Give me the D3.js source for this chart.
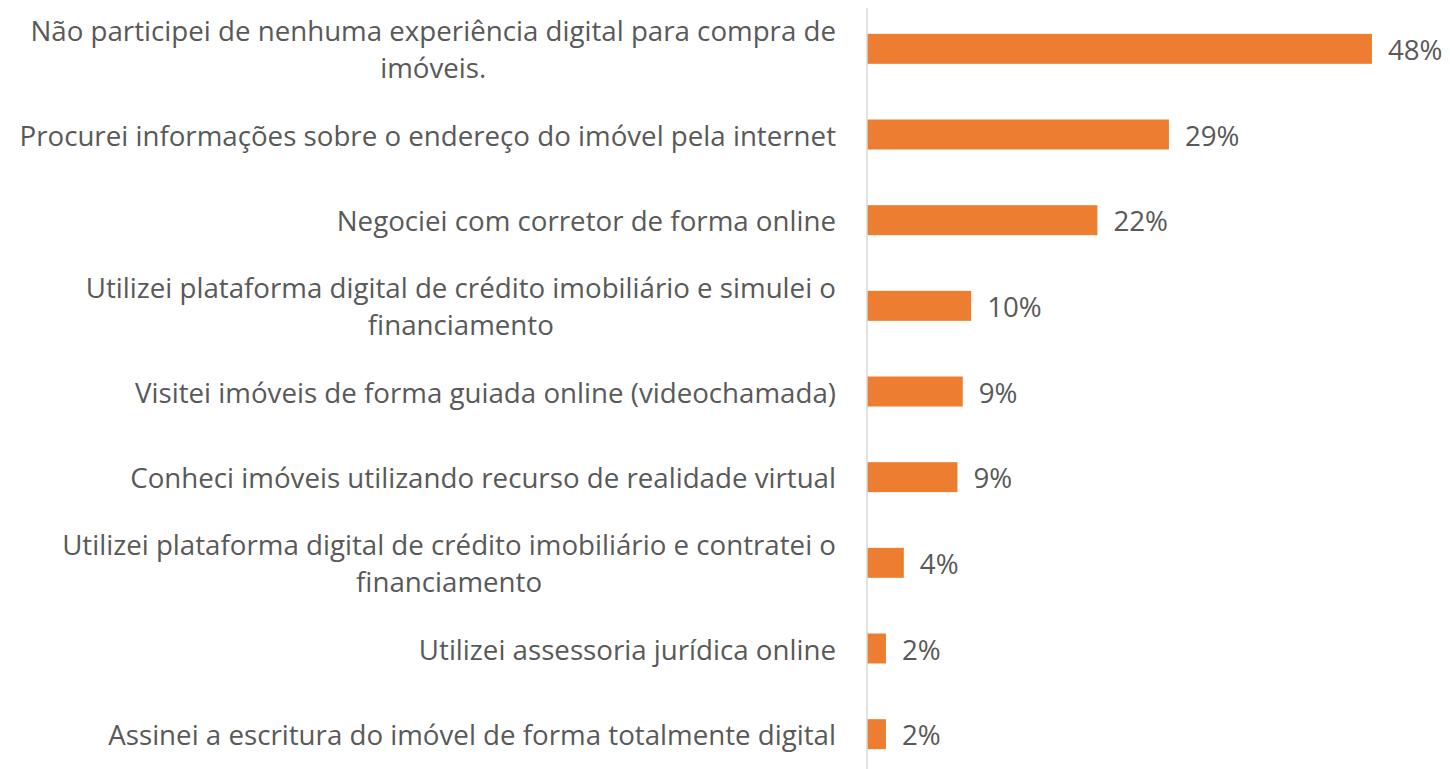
<!DOCTYPE html>
<html>
<head>
<meta charset="utf-8">
<script src="https://d3js.org/d3.v7.min.js"></script>
<style>
  body { margin: 0; background: #fff; }
  text { font-family: "Open Sans", sans-serif; fill: #595959; }
</style>
</head>
<body>
<svg width="1450" height="769"></svg>
<script>
// categories, each split in the lines shown on the chart
const categories = [
  ["Não participei de nenhuma experiência digital para compra de", "imóveis."],
  ["Procurei informações sobre o endereço do imóvel pela internet"],
  ["Negociei com corretor de forma online"],
  ["Utilizei plataforma digital de crédito imobiliário e simulei o", "financiamento"],
  ["Visitei imóveis de forma guiada online (videochamada)"],
  ["Conheci imóveis utilizando recurso de realidade virtual"],
  ["Utilizei plataforma digital de crédito imobiliário e contratei o", "financiamento"],
  ["Utilizei assessoria jurídica online"],
  ["Assinei a escritura do imóvel de forma totalmente digital"]
];
// percentages
const values = [48, 28.7, 21.9, 9.9, 9.1, 8.6, 3.5, 1.8, 1.8];

const svg = d3.select("svg");
const fontSize = 27.7;
const axisX = 867;
const labelRight = 836;

const xScale = d3.scaleLinear()
  .domain([0, 50])
  .range([axisX, axisX + 526]);

const yScale = d3.scaleBand()
  .domain(d3.range(categories.length))
  .range([6, 777])
  .paddingInner(0.65)
  .paddingOuter(0.325);

// bars
svg.append("g")
  .selectAll("rect")
  .data(values)
  .join("rect")
  .attr("x", xScale(0))
  .attr("y", (d, i) => yScale(i))
  .attr("width", d => xScale(d) - xScale(0))
  .attr("height", yScale.bandwidth())
  .attr("fill", "#ED7D31");

// vertical axis line
svg.append("line")
  .attr("x1", axisX).attr("x2", axisX)
  .attr("y1", 8).attr("y2", 777)
  .attr("stroke", "#d9d9d9")
  .attr("stroke-width", 1.5);

// value labels
svg.append("g")
  .selectAll("text")
  .data(values)
  .join("text")
  .attr("x", d => xScale(d) + 16)
  .attr("y", (d, i) => yScale(i) + yScale.bandwidth() / 2)
  .attr("dominant-baseline", "central")
  .attr("font-size", fontSize)
  .text(d => Math.round(d) + "%");

// category labels: lines centred on each other, block right-aligned
const lineGap = 37;
const catG = svg.append("g");
categories.forEach((lines, i) => {
  const cy = yScale(i) + yScale.bandwidth() / 2;
  const g = catG.append("g");
  const texts = lines.map((ln, k) => g.append("text")
    .attr("font-size", fontSize)
    .attr("text-anchor", "middle")
    .attr("dominant-baseline", "central")
    .attr("y", cy + (k - (lines.length - 1) / 2) * lineGap)
    .text(ln));
  const w = d3.max(texts, t => t.node().getComputedTextLength());
  texts.forEach(t => t.attr("x", labelRight - w / 2));
});
</script>
</body>
</html>
